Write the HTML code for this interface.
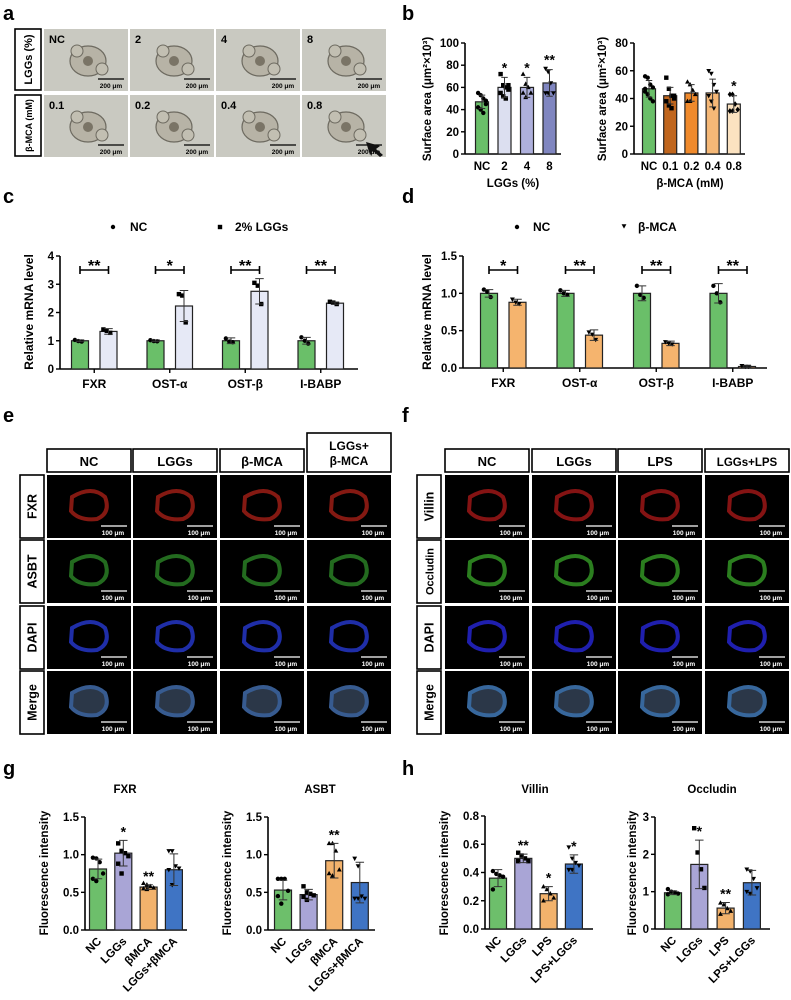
<!DOCTYPE html>
<html><head><meta charset="utf-8"><style>
html,body{margin:0;padding:0;background:#fff}
svg{display:block;font-family:"Liberation Sans",Arial,sans-serif}
</style></head><body>
<svg id="fig" width="791" height="1000" viewBox="0 0 791 1000" xmlns="http://www.w3.org/2000/svg">
<g font-weight="bold" font-size="20" fill="#000">
<text x="3" y="20">a</text>
<text x="402" y="20">b</text>
<text x="3" y="203">c</text>
<text x="402" y="203">d</text>
<text x="3" y="422">e</text>
<text x="402" y="422">f</text>
<text x="3" y="775">g</text>
<text x="402" y="775">h</text>
</g>
<g id="layer"></g>
</svg>
<script>
// ---------- data ----------
const bLeftCats = ["NC","2","4","8"];
const bLeftMeans = [47,60,60,64];
const bLeftSD = [6,9,9,12];
const bLeftPts = [[55,53,50,45,42,40,37,48],[72,62,60,58,55,52,50,62],[72,63,60,55,55,51],[77,74,64,55,55,55]];
const bLeftSig = ["","*","*","**"];
const bLeftTicks = [0,20,40,60,80,100];
const bRightCats = ["NC","0.1","0.2","0.4","0.8"];
const bRightMeans = [47,42,44,44,36];
const bRightSD = [6,6,6,10,6];
const bRightPts = [[56,55,50,48,45,43,40,38,47],[55,47,42,40,38,35,33,42],[52,50,46,43,38,38],[60,58,50,45,42,38,33],[43,43,36,32,31,31]];
const bRightSig = ["","","","","*"];
const bRightTicks = [0,20,40,60,80];

const mrnaCats = ["FXR","OST-α","OST-β","I-BABP"];
const cNC = [1.0,1.0,1.0,1.0];
const cNCsd = [0.03,0.03,0.1,0.12];
const cNCpts = [[1.03,0.99,0.97],[1.02,0.99,0.98],[1.08,0.97,0.95],[1.12,1.0,0.9]];
const cLGG = [1.33,2.23,2.75,2.33];
const cLGGsd = [0.1,0.55,0.45,0.04];
const cLGGpts = [[1.4,1.35,1.28],[2.65,2.6,1.65],[3.05,2.95,2.3],[2.38,2.35,2.3]];
const cSig = ["**","*","**","**"];
const cTicks = [0,1,2,3,4];
const dNC = [1.0,1.0,1.0,1.0];
const dNCsd = [0.05,0.04,0.1,0.13];
const dNCpts = [[1.05,1.02,0.95],[1.04,1.0,0.98],[1.1,0.98,0.94],[1.1,1.0,0.88]];
const dMCA = [0.88,0.44,0.33,0.02];
const dMCAsd = [0.04,0.07,0.03,0.01];
const dMCApts = [[0.92,0.88,0.86],[0.48,0.45,0.38],[0.35,0.33,0.32],[0.03,0.02,0.02]];
const dSig = ["*","**","**","**"];
const dTicks = [0,0.5,1.0,1.5];

const gCats = ["NC","LGGs","βMCA","LGGs+βMCA"];
const gFXR = [0.81,1.02,0.57,0.80];
const gFXRsd = [0.13,0.17,0.03,0.21];
const gFXRpts = [[0.96,0.95,0.9,0.75,0.68,0.65],[1.15,1.05,1.02,0.98,0.88,0.75],[0.62,0.6,0.58,0.56,0.55,0.54],[1.05,1.05,0.85,0.82,0.8,0.6]];
const gFXRsig = ["","*","**",""];
const gASBT = [0.53,0.47,0.92,0.63];
const gASBTsd = [0.13,0.07,0.23,0.27];
const gASBTpts = [[0.68,0.68,0.68,0.52,0.45,0.35],[0.58,0.5,0.48,0.46,0.44,0.4],[1.15,1.15,1.05,0.8,0.75,0.72],[0.95,0.85,0.45,0.42,0.42,0.42]];
const gASBTsig = ["","","**",""];
const gTicks = [0,0.5,1.0,1.5];
const hCats = ["NC","LGGs","LPS","LPS+LGGs"];
const hVillin = [0.36,0.50,0.25,0.46];
const hVillinSD = [0.06,0.03,0.05,0.065];
const hVillinPts = [[0.41,0.39,0.38,0.37,0.28],[0.54,0.52,0.5,0.48,0.48],[0.3,0.28,0.25,0.22,0.2],[0.58,0.5,0.47,0.45,0.42,0.42]];
const hVillinSig = ["","**","*","*"];
const hVillinTicks = [0,0.2,0.4,0.6,0.8];
const hOcc = [0.97,1.73,0.56,1.24];
const hOccSD = [0.05,0.65,0.15,0.33];
const hOccPts = [[1.07,1.0,0.98,0.95,0.93],[2.7,2.05,1.6,1.1],[0.7,0.65,0.55,0.48,0.4],[1.6,1.55,1.35,1.1,1.0,0.95]];
const hOccSig = ["","*","**",""];
const hOccTicks = [0,1,2,3];

// ---------- helpers ----------
const NS="http://www.w3.org/2000/svg";
const layer=document.getElementById('layer');
function mk(tag,attrs,parent){const e=document.createElementNS(NS,tag);for(const k in attrs)e.setAttribute(k,attrs[k]);(parent||layer).appendChild(e);return e;}
function txt(x,y,s,size,anchor,parent,extra){const t=mk('text',Object.assign({x:x,y:y,'font-size':size,'font-weight':'bold','text-anchor':anchor||'middle'},extra||{}),parent);t.textContent=s;return t;}
function marker(shape,x,y,r,parent){
  let e;
  if(shape==='circle')e=mk('circle',{cx:x,cy:y,r:r,fill:'#000'},parent);
  else if(shape==='square')e=mk('rect',{x:x-r,y:y-r,width:2*r,height:2*r,fill:'#000'},parent);
  else if(shape==='up')e=mk('polygon',{points:`${x},${y-r*1.2} ${x-r*1.1},${y+r*0.8} ${x+r*1.1},${y+r*0.8}`,fill:'#000'},parent);
  else if(shape==='down')e=mk('polygon',{points:`${x},${y+r*1.2} ${x-r*1.1},${y-r*0.8} ${x+r*1.1},${y-r*0.8}`,fill:'#000'},parent);
  else e=mk('polygon',{points:`${x},${y-r*1.3} ${x-r},${y} ${x},${y+r*1.3} ${x+r},${y}`,fill:'#000'},parent);
  
  
}
function yAxis(g,ax,yTop,yBot,max,ticks,fmt){
  const sy=v=>yBot-(v/max)*(yBot-yTop);
  const a=mk('line',{x1:ax,y1:yTop,x2:ax,y2:yBot,stroke:'#000','stroke-width':1.6},g);
  
  
  ticks.forEach(t=>{
    mk('line',{x1:ax-4,y1:sy(t),x2:ax,y2:sy(t),stroke:'#000','stroke-width':1.4},g);
    const l=txt(ax-6,sy(t)+4,fmt(t),11.5,'end',g);
    
    
  });
  return sy;
}
function ytitle(g,x,yc,s,size){
  const t=txt(x,yc,s,size||11,'middle',g,{transform:`rotate(-90 ${x} ${yc})`});
  
  
  return t;
}
function bar(g,cx,w,v,sd,pts,sy,color,shape,r,yBot,name){
  const b=mk('rect',{x:cx-w/2,y:sy(v),width:w,height:yBot-sy(v),fill:color,stroke:'#222','stroke-width':1.2},g);
  
  
  pts.forEach((p,i)=>{const off=((i%4)-1.5)*(w/5);marker(shape,cx+off,sy(p),r,g);});
  const e=mk('path',{d:`M${cx},${sy(v+sd)}V${sy(Math.max(0,v-sd))}M${cx-w/4},${sy(v+sd)}H${cx+w/4}M${cx-w/4},${sy(Math.max(0,v-sd))}H${cx+w/4}`,stroke:'#333','stroke-width':1,fill:'none'},g);
  
  
}
function simpleChart(o){
  const g=mk('g',{});
  
  
  const sy=yAxis(g,o.ax,o.yTop,o.yBot,o.max,o.ticks,o.fmt);
  const xa=mk('line',{x1:o.ax,y1:o.yBot,x2:o.axEnd,y2:o.yBot,stroke:'#000','stroke-width':1.6},g);
  
  
  o.cats.forEach((c,i)=>{
    const cx=o.x0+i*o.step;
    bar(g,cx,o.bw,o.means[i],o.sd[i],o.pts[i],sy,o.colors[i],o.shapes[i],o.r,o.yBot,'bar-'+c);
    if(o.sig[i]){const s=txt(cx,sy(o.means[i]+o.sd[i])-o.sigGap,o.sig[i],14,'middle',g);}
    let l;
    if(o.rotate){l=txt(cx+4,o.yBot+12,c,11.5,'end',g,{transform:`rotate(-45 ${cx+4} ${o.yBot+12})`});}
    else{l=txt(cx,o.yBot+16,c,11.5,'middle',g);}
    
    
  });
  return g;
}
function groupedChart(o){
  const g=mk('g',{});
  
  
  const sy=yAxis(g,o.ax,o.yTop,o.yBot,o.max,o.ticks,o.fmt);
  const xa=mk('line',{x1:o.ax,y1:o.yBot,x2:o.axEnd,y2:o.yBot,stroke:'#000','stroke-width':1.6},g);
  
  
  o.cats.forEach((c,i)=>{
    const c1=o.x0+i*o.step, c2=c1+o.sStep;
    bar(g,c1,o.bw,o.s1[i],o.s1sd[i],o.s1pts[i],sy,o.col1,'circle',2.2,o.yBot,'bar-nc-'+c);
    bar(g,c2,o.bw,o.s2[i],o.s2sd[i],o.s2pts[i],sy,o.col2,o.shape2,2.2,o.yBot,'bar-treat-'+c);
    const m=(c1+c2)/2;
    mk('line',{x1:m,y1:o.yBot,x2:m,y2:o.yBot+4,stroke:'#000','stroke-width':1.4},g);
    const br=mk('path',{d:`M${c1},${o.brY-4}V${o.brY+4}M${c1},${o.brY}H${c2}M${c2},${o.brY-4}V${o.brY+4}`,stroke:'#000','stroke-width':1.6,fill:'none'},g);
    
    
    const s=txt(m,o.brY+1,o.sig[i],16,'middle',g);
    
    
    const l=txt(m,o.yBot+19,c,12,'middle',g);
    
    
  });
  return g;
}
const f0=v=>String(v), f1=v=>v.toFixed(1);

// ---------- panel b ----------
let gb=simpleChart({name:'chart-b-lggs',ax:465,axEnd:561,yTop:43,yBot:154,max:100,ticks:bLeftTicks,fmt:f0,cats:bLeftCats,means:bLeftMeans,sd:bLeftSD,pts:bLeftPts,sig:bLeftSig,x0:482,step:22.5,bw:13,colors:['#6abf69','#dcdff0','#aeb0dc','#8086c0'],shapes:['circle','square','up','down'],r:2.2,sigGap:5});
ytitle(gb,431,99,'Surface area (μm²×10³)',11.5);
txt(513,187,'LGGs (%)',11.5,'middle',gb);
gb=simpleChart({name:'chart-b-bmca',ax:634,axEnd:745,yTop:43,yBot:154,max:80,ticks:bRightTicks,fmt:f0,cats:bRightCats,means:bRightMeans,sd:bRightSD,pts:bRightPts,sig:bRightSig,x0:649,step:21.2,bw:13,colors:['#6abf69','#c0661e','#f08a2c','#f5b877','#fbe2c0'],shapes:['circle','square','up','down','diamond'],r:2.2,sigGap:5});
ytitle(gb,606,99,'Surface area (μm²×10³)',11.5);
txt(690,187,'β-MCA (mM)',11.5,'middle',gb);

// ---------- panel c / d ----------
let gc=groupedChart({name:'chart-c-mrna',ax:60,axEnd:358,yTop:256,yBot:369,max:4,ticks:cTicks,fmt:f0,cats:mrnaCats,x0:80,step:75.5,sStep:28.5,bw:17,s1:cNC,s1sd:cNCsd,s1pts:cNCpts,s2:cLGG,s2sd:cLGGsd,s2pts:cLGGpts,col1:'#6abf69',col2:'#e6e9f6',shape2:'square',sig:cSig,brY:270});
ytitle(gc,33,312,'Relative mRNA level',12);
marker('circle',113,227,2.2,gc);txt(130,231,'NC',12,'start',gc);
marker('square',220,227,2.2,gc);txt(235,231,'2% LGGs',12,'start',gc);
let gd=groupedChart({name:'chart-d-mrna',ax:463,axEnd:767,yTop:256,yBot:368,max:1.5,ticks:dTicks,fmt:f1,cats:mrnaCats,x0:489,step:76.5,sStep:28.5,bw:17,s1:dNC,s1sd:dNCsd,s1pts:dNCpts,s2:dMCA,s2sd:dMCAsd,s2pts:dMCApts,col1:'#6abf69',col2:'#f5b46e',shape2:'down',sig:dSig,brY:270});
ytitle(gd,431,312,'Relative mRNA level',12);
marker('circle',517,227,2.2,gd);txt(533,231,'NC',12,'start',gd);
marker('down',624,226,2.2,gd);txt(638,231,'β-MCA',12,'start',gd);

// ---------- panel g / h ----------
const c4=['#6dbf6b','#a9a5d6','#f2b26c','#3f74c4'], s4=['circle','square','up','down'];
let gg=simpleChart({name:'chart-g-fxr',ax:85,axEnd:187,yTop:817,yBot:930,max:1.5,ticks:gTicks,fmt:f1,cats:gCats,means:gFXR,sd:gFXRsd,pts:gFXRpts,sig:gFXRsig,x0:98,step:25.3,bw:17,colors:c4,shapes:s4,r:2.2,sigGap:4,rotate:true});
ytitle(gg,48,873,'Fluorescence intensity',11.5);
txt(125,793,'FXR',11.5,'middle',gg);
gg=simpleChart({name:'chart-g-asbt',ax:268,axEnd:375,yTop:817,yBot:930,max:1.5,ticks:gTicks,fmt:f1,cats:gCats,means:gASBT,sd:gASBTsd,pts:gASBTpts,sig:gASBTsig,x0:283,step:25.6,bw:17,colors:c4,shapes:s4,r:2.2,sigGap:4,rotate:true});
ytitle(gg,231,873,'Fluorescence intensity',11.5);
txt(320,793,'ASBT',11.5,'middle',gg);
let gh=simpleChart({name:'chart-h-villin',ax:485,axEnd:593,yTop:816,yBot:929,max:0.8,ticks:hVillinTicks,fmt:f1,cats:hCats,means:hVillin,sd:hVillinSD,pts:hVillinPts,sig:hVillinSig,x0:498,step:25.3,bw:17,colors:c4,shapes:s4,r:2.2,sigGap:4,rotate:true});
ytitle(gh,448,873,'Fluorescence intensity',11.5);
txt(535,793,'Villin',11.5,'middle',gh);
gh=simpleChart({name:'chart-h-occludin',ax:655,axEnd:770,yTop:817,yBot:929,max:3,ticks:hOccTicks,fmt:f0,cats:hCats,means:hOcc,sd:hOccSD,pts:hOccPts,sig:hOccSig,x0:673,step:26.3,bw:17,colors:c4,shapes:s4,r:2.2,sigGap:4,rotate:true});
ytitle(gh,636,873,'Fluorescence intensity',11.5);
txt(712,793,'Occludin',11.5,'middle',gh);

// ---------- panel a: bright-field images ----------
const ga=mk('g',{});


const aColX=[44,130,216,302], aRowY=[29,95];
const aLabels=[["NC","2","4","8"],["0.1","0.2","0.4","0.8"]];
[["LGGs (%)",29],["β-MCA (mM)",95]].forEach(([s,y])=>{
  const r=mk('rect',{x:15,y:y,width:26,height:61,fill:'#fff',stroke:'#000','stroke-width':1.6},ga);
  
  
  txt(32,y+30.5,s,s.length>8?9:11,'middle',ga,{transform:`rotate(-90 32 ${y+30.5})`});
});
aRowY.forEach((y,ri)=>aColX.forEach((x,ci)=>{
  const r=mk('rect',{x:x,y:y,width:84,height:62,fill:'#c9c9c1'},ga);
  
  
  mk('ellipse',{cx:x+44,cy:y+32,rx:18,ry:15,fill:'#b7b3a6',stroke:'#6d6a60','stroke-width':1.2},ga);
  mk('circle',{cx:x+33,cy:y+22,r:6,fill:'#c2bfb2',stroke:'#6d6a60','stroke-width':1},ga);
  mk('circle',{cx:x+58,cy:y+40,r:6,fill:'#c2bfb2',stroke:'#6d6a60','stroke-width':1},ga);
  mk('circle',{cx:x+44,cy:y+32,r:5,fill:'#7a7466'},ga);
  txt(x+5,y+14,aLabels[ri][ci],11,'start',ga);
  mk('line',{x1:x+54,y1:y+50,x2:x+80,y2:y+50,stroke:'#000','stroke-width':1.3},ga);
  txt(x+67,y+59,'200 μm',6.5,'middle',ga);
}));
mk('polygon',{points:'366,142 380,146 376,149 383,155 380,157 373,151 370,155',fill:'#111'},ga);

// ---------- panels e / f: fluorescence grids ----------
function fluoGrid(name,colX,cw,rowHX,colHeads,rowHeads,tallLast,colors){
  const g=mk('g',{});
  
  
  const rowY=[475,540,606,671], rh=63;
  colHeads.forEach((h,i)=>{
    const top=(tallLast&&i===3)?433:449;
    const r=mk('rect',{x:colX[i],y:top,width:cw,height:472-top,fill:'#fff',stroke:'#000','stroke-width':1.6},g);
    
    
    const lines=h.split('\n');
    if(lines.length===1)txt(colX[i]+cw/2,466,h,h.length>6?11.5:13,'middle',g);
    else{txt(colX[i]+cw/2,450,lines[0],12,'middle',g);txt(colX[i]+cw/2,465,lines[1],12,'middle',g);}
  });
  rowHeads.forEach((h,j)=>{
    const r=mk('rect',{x:rowHX,y:rowY[j],width:24,height:rh,fill:'#fff',stroke:'#000','stroke-width':1.6},g);
    
    
    const cx=rowHX+12+4.5, cy=rowY[j]+rh/2;
    txt(cx,cy,h,h.length>6?11:12.5,'middle',g,{transform:`rotate(-90 ${cx} ${cy})`});
    colX.forEach((x,i)=>{
      const c=mk('rect',{x:x,y:rowY[j],width:cw,height:rh,fill:'#000'},g);
      
      
      const col=colors[j];
      mk('path',{d:`M${x+25},${rowY[j]+22} Q${x+45},${rowY[j]+10} ${x+58},${rowY[j]+22} Q${x+64},${rowY[j]+38} ${x+50},${rowY[j]+44} Q${x+32},${rowY[j]+46} ${x+24},${rowY[j]+36} Z`,fill:j===3?'#3a4a60':'none',stroke:col,'stroke-width':4,opacity:0.75},g);
      mk('line',{x1:x+54,y1:rowY[j]+51,x2:x+80,y2:rowY[j]+51,stroke:'#fff','stroke-width':1.2},g);
      txt(x+66,rowY[j]+60,'100 μm',6.5,'middle',g,{fill:'#fff'});
    });
  });
}
fluoGrid('panel-e-fluorescence-grid',[47,133,220,307],84,20,['NC','LGGs','β-MCA','LGGs+\nβ-MCA'],['FXR','ASBT','DAPI','Merge'],true,['#b02218','#2f8f2a','#2a3de0','#4a7ac0']);
fluoGrid('panel-f-fluorescence-grid',[445,532,618,705],84,417,['NC','LGGs','LPS','LGGs+LPS'],['Villin','Occludin','DAPI','Merge'],false,['#b01a1a','#3aa82a','#2a2ae8','#4a8ad0']);
</script>
</body></html>
